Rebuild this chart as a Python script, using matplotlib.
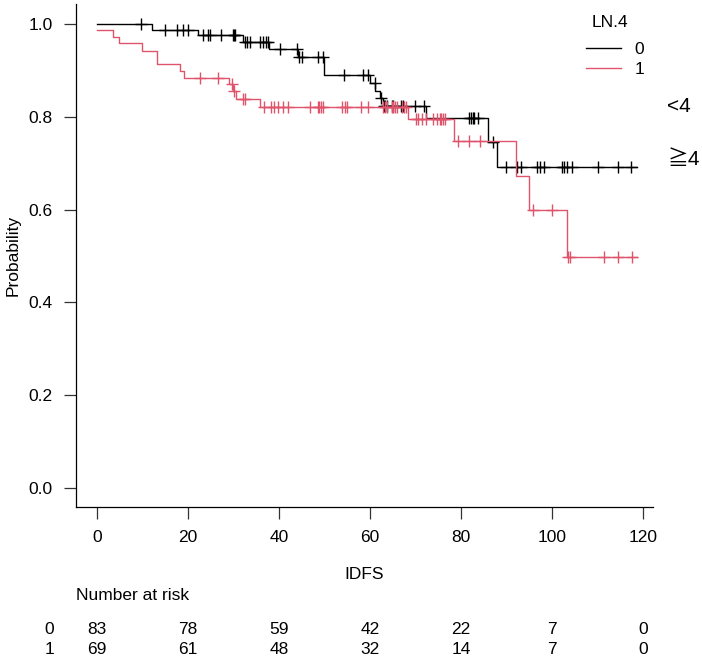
import numpy as np
import matplotlib

matplotlib.use("Agg")
import matplotlib.pyplot as plt

plt.rcParams["font.family"] = ["Liberation Sans", "Noto Sans CJK JP", "DejaVu Sans"]

# ---------------------------------------------------------------- data
GROUPS = ["0", "1"]
COLORS = {"0": "#000000", "1": "#DF536B"}

# LN.4 = 0 : step times and survival after each step
t_event_0 = [0, 12.2, 22.3, 32.2, 37.9, 44.2, 49.9, 59.9, 61.2, 62.2, 62.9, 72.4, 85.9, 88.0]
surv_0 = [1.0, 0.988, 0.976, 0.962, 0.945, 0.928, 0.890, 0.873, 0.856, 0.840, 0.823, 0.797,
          0.746, 0.692]
t_end_0 = 118.7
censor_0 = [9.6, 15.0, 17.5, 19.0, 20.1, 23.2, 24.3, 24.8, 27.3, 29.8, 30.1, 30.4, 32.5, 33.0,
            33.6, 35.8, 36.4, 37.1, 37.5, 40.2, 44.0, 44.5, 45.0, 48.6, 49.6, 54.3, 58.5, 59.5,
            61.0, 62.4, 63.1, 63.4, 63.7, 64.8, 65.1, 66.8, 67.2, 69.9, 71.9, 81.8, 82.1, 82.6,
            82.9, 83.8, 87.1, 90.0, 92.4, 93.1, 96.6, 97.4, 98.2, 102.1, 102.6, 103.2, 104.5,
            110.2, 114.6, 117.3]

# LN.4 = 1
t_event_1 = [0, 3.6, 4.9, 9.8, 13.1, 13.3, 18.2, 19.2, 29.1, 29.9, 30.5, 35.8, 68.4, 78.4,
             92.1, 95.0, 103.4]
surv_1 = [0.986, 0.972, 0.958, 0.942, 0.928, 0.914, 0.899, 0.884, 0.871, 0.856, 0.839, 0.822,
          0.796, 0.747, 0.673, 0.598, 0.498]
t_end_1 = 118.7
censor_1 = [22.6, 26.6, 29.6, 30.2, 32.0, 32.5, 36.7, 38.3, 39.0, 39.8, 40.8, 42.0, 46.8, 48.6,
            48.9, 49.2, 49.7, 53.8, 54.5, 55.0, 58.0, 59.6, 62.9, 63.3, 63.7, 64.8, 65.1, 65.5,
            65.9, 67.0, 67.4, 68.0, 70.1, 70.6, 71.4, 72.4, 73.9, 74.8, 75.4, 75.7, 76.1, 76.5,
            79.4, 81.7, 84.1, 95.8, 100.0, 103.5, 104.0, 111.5, 114.6, 117.5]

risk_times = [0, 20, 40, 60, 80, 100, 120]
risk_0 = [83, 78, 59, 42, 22, 7, 0]
risk_1 = [69, 61, 48, 32, 14, 7, 0]

x_ticks = [0, 20, 40, 60, 80, 100, 120]
y_ticks = [0.0, 0.2, 0.4, 0.6, 0.8, 1.0]

CURVES = {
    "0": (t_event_0, surv_0, t_end_0, censor_0, risk_0),
    "1": (t_event_1, surv_1, t_end_1, censor_1, risk_1),
}

FS = 12.5

fig = plt.figure(figsize=(7.02, 6.61), dpi=100)
ax = fig.add_axes([76 / 702, 154 / 661, 577 / 702, 503 / 661])

for g in GROUPS:
    te, sv, tend, cens, _ = CURVES[g]
    t = np.array(te + [tend])
    s = np.array(sv + [sv[-1]])
    ax.plot(t, s, drawstyle="steps-post", color=COLORS[g], lw=1.0, label=g)
    idx = np.searchsorted(np.array(te), np.array(cens), side="right") - 1
    ax.plot(cens, np.array(sv)[idx], "+", color=COLORS[g], markersize=8.6, mew=1.0,
            linestyle="none")

ax.set_xlim(-4.6, 122.2)
ax.set_ylim(-0.041, 1.043)
ax.set_xticks(x_ticks)
ax.set_yticks(y_ticks)
ax.set_yticklabels([f"{v:.1f}" for v in y_ticks])
ax.tick_params(axis="both", labelsize=FS, length=8.3, width=0.9, color="#333333")
ax.tick_params(axis="x", pad=8.4)
ax.tick_params(axis="y", pad=8.6)
for side in ["top", "right"]:
    ax.spines[side].set_visible(False)
for side in ["left", "bottom"]:
    ax.spines[side].set_linewidth(0.9)

ax.set_xlabel("IDFS", fontsize=FS, va="baseline")
ax.xaxis.set_label_coords(0.5, -0.1431)
ax.set_ylabel("Probability", fontsize=FS, va="baseline")
ax.yaxis.set_label_coords(-0.1014, 0.5)

# legend: title drawn as its own text so the gap matches
fig.text(610 / 702, 1 - 26.7 / 661, "LN.4", fontsize=FS, ha="center", va="baseline")
ax.legend(loc="upper left", bbox_to_anchor=(586 / 702, 1 - 42 / 661),
          bbox_transform=fig.transFigure, frameon=False, fontsize=FS,
          handlelength=2.0, handletextpad=0.8, labelspacing=0.28,
          borderpad=0, borderaxespad=0)

# group labels at the right margin
ax.text(125.3, 0.811, "<4", fontsize=15, ha="left", va="baseline", clip_on=False)
ax.text(125.3, 0.696, "≧4", fontsize=15, ha="left", va="baseline", clip_on=False)

# number at risk table
tr = ax.get_xaxis_transform()
ax.text(0, -0.1849, "Number at risk", transform=ax.transAxes, fontsize=FS,
        ha="left", va="baseline")
for g, yb in zip(GROUPS, [-0.2519, -0.2918]):
    risk = CURVES[g][4]
    ax.text(-10.5, yb, g, transform=tr, fontsize=FS, ha="center", va="baseline", clip_on=False)
    for t, n in zip(risk_times, risk):
        ax.text(t, yb, str(n), transform=tr, fontsize=FS, ha="center", va="baseline",
                clip_on=False)

fig.savefig("out.png", dpi=100)
